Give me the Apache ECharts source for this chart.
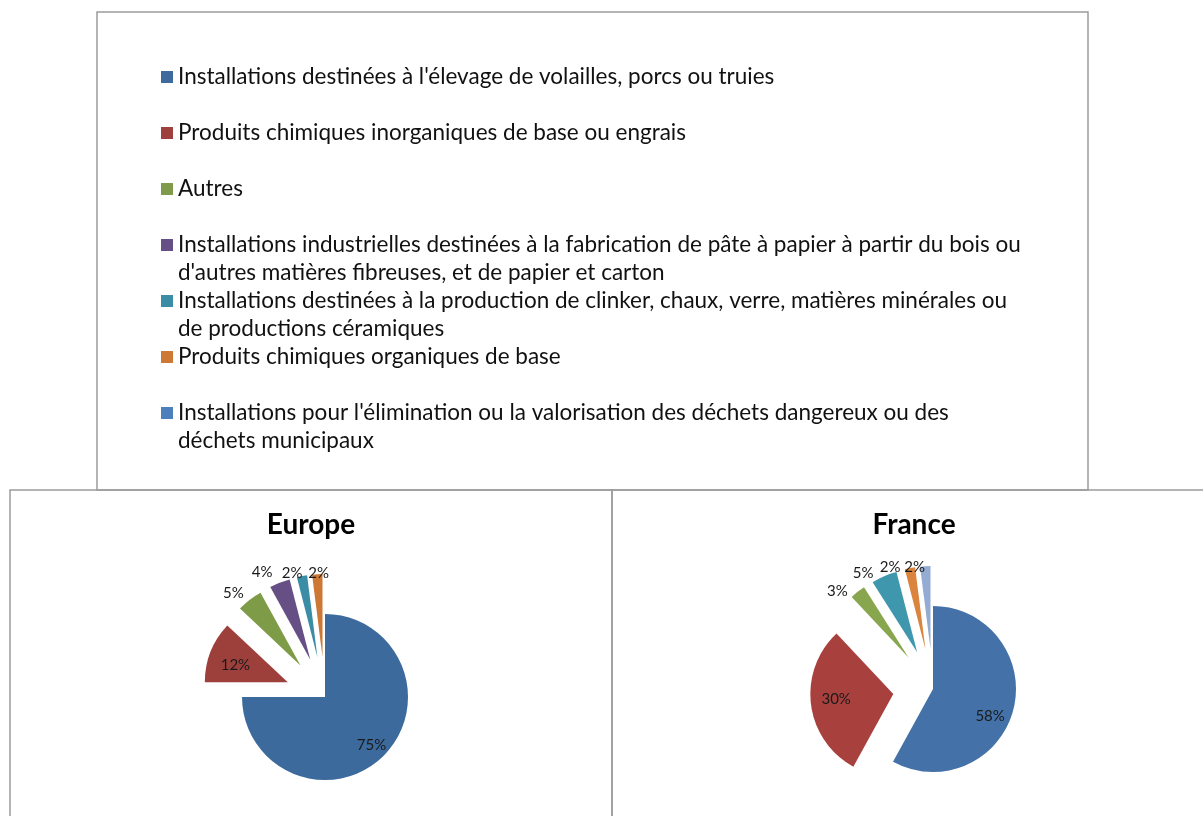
<!DOCTYPE html>
<html>
<head>
<meta charset="utf-8">
<script src="https://cdn.jsdelivr.net/npm/echarts@6/dist/echarts.min.js"></script>
<style>
html,body{margin:0;padding:0;background:#fff;}
#chart{width:1203px;height:816px;}
</style>
</head>
<body>
<div id="chart"></div>
<script>
// Categories (legend order)
const categories = [
  "Installations destinées à l'élevage de volailles, porcs ou truies",
  "Produits chimiques inorganiques de base ou engrais",
  "Autres",
  "Installations industrielles destinées à la fabrication de pâte à papier à partir du bois ou d'autres matières fibreuses, et de papier et carton",
  "Installations destinées à la production de clinker, chaux, verre, matières minérales ou de productions céramiques",
  "Produits chimiques organiques de base",
  "Installations pour l'élimination ou la valorisation des déchets dangereux ou des déchets municipaux"
];
// Legend display lines (text wrapping as in the original)
const legendLines = [
  ["Installations destinées à l'élevage de volailles, porcs ou truies"],
  ["Produits chimiques inorganiques de base ou engrais"],
  ["Autres"],
  ["Installations industrielles destinées à la fabrication de pâte à papier à partir du bois ou", "d'autres matières fibreuses, et de papier et carton"],
  ["Installations destinées à la production de clinker, chaux, verre, matières minérales ou", "de productions céramiques"],
  ["Produits chimiques organiques de base"],
  ["Installations pour l'élimination ou la valorisation des déchets dangereux ou des", "déchets municipaux"]
];
// Values (%), null = category absent
const europeValues = [75, 12, 5, 4, 2, 2, null];
const franceValues = [58, 30, 3, null, 5, 2, 2];
const chartTitles = ["Europe", "France"];

const legendColors = ['#3F6A9E', '#9E413E', '#7F9A48', '#664F84', '#3A8DA4', '#CD7935', '#4E7FBD'];
const europeColors = ['#3D6A9D', '#9D403C', '#7E9B48', '#664F84', '#3A8DA4', '#CD7935', '#4E7FBD'];
const franceColors = ['#4472A8', '#A8413E', '#87A64D', '#71588F', '#3F97AE', '#DA843D', '#94ABD2'];

// Label nudges (per category) to mimic Excel's best-fit placement
const labelNudges = {
  Europe: [[15, 17], [-11, -1], [0, 1], [-4, -1], [2, 7], [12, 9], [0, 0]],
  France: [[14, 16], [-13, 0], [-4, 7], [0, 0], [-7, 6], [-8, 9], [0, 11]]
};

function buildData(values, colors) {
  const out = [];
  values.forEach((v, i) => {
    if (v == null) return;
    out.push({
      name: categories[i],
      value: v,
      catIndex: i,
      selected: i !== 0,
      itemStyle: { color: colors[i] },
      label: { position: i < 2 ? 'inside' : 'outside' }
    });
  });
  return out;
}

function pieSeries(values, colors, key, center) {
  const data = buildData(values, colors);
  const nudges = data.map(d => labelNudges[key][d.catIndex]);
  return {
    type: 'pie',
    name: key,
    center: center,
    radius: 83,
    startAngle: 90,
    clockwise: true,
    selectedMode: 'multiple',
    selectedOffset: 40,
    avoidLabelOverlap: false,
    percentPrecision: 0,
    emphasis: { disabled: true },
    itemStyle: { borderWidth: 0 },
    label: {
      show: true,
      formatter: '{d}%',
      fontFamily: 'Lato',
      fontSize: 15,
      color: '#1a1a1a',
      distanceToLabelLine: 10
    },
    labelLine: { show: false, length: 10, length2: 0 },
    labelLayout: function (params) {
      const n = nudges[params.dataIndex] || [0, 0];
      return { align: 'center', hideOverlap: false, moveOverlap: null, dx: n[0], dy: n[1] };
    },
    data: data
  };
}

const chart = echarts.init(document.getElementById('chart'), null, { renderer: 'canvas' });
const borderColor = '#9c9c9c';
const titleStyle = { fontFamily: 'Lato', fontWeight: 'bold', fontSize: 28, color: '#000' };
chart.setOption({
  backgroundColor: '#ffffff',
  animation: false,
  title: [
    { text: chartTitles[0], left: 311, top: 511, padding: 0, textAlign: 'center', textStyle: titleStyle },
    { text: chartTitles[1], left: 914, top: 511, padding: 0, textAlign: 'center', textStyle: titleStyle }
  ],
  legend: {
    orient: 'vertical',
    left: 161,
    top: 35,
    padding: 0,
    itemGap: -28,
    itemWidth: 12,
    itemHeight: 12,
    icon: 'rect',
    selectedMode: false,
    data: categories.map((n, i) => ({ name: n, itemStyle: { color: legendColors[i] } })),
    formatter: function (name) {
      const lines = legendLines[categories.indexOf(name)];
      return '\n' + lines[0] + '\n' + (lines[1] || ' ');
    },
    textStyle: { fontFamily: 'Lato', fontSize: 22.5, lineHeight: 28, color: '#111' }
  },
  graphic: [
    { type: 'rect', silent: true, z: -1, shape: { x: 97, y: 12, width: 991, height: 478 },
      style: { fill: 'none', stroke: borderColor, lineWidth: 1.5 } },
    { type: 'rect', silent: true, z: -1, shape: { x: 10, y: 490, width: 602, height: 360 },
      style: { fill: 'none', stroke: borderColor, lineWidth: 1.5 } },
    { type: 'rect', silent: true, z: -1, shape: { x: 612, y: 490, width: 620, height: 360 },
      style: { fill: 'none', stroke: borderColor, lineWidth: 1.5 } }
  ],
  series: [
    pieSeries(europeValues, europeColors, 'Europe', [325, 697]),
    pieSeries(franceValues, franceColors, 'France', [933, 689])
  ]
});
</script>
</body>
</html>
